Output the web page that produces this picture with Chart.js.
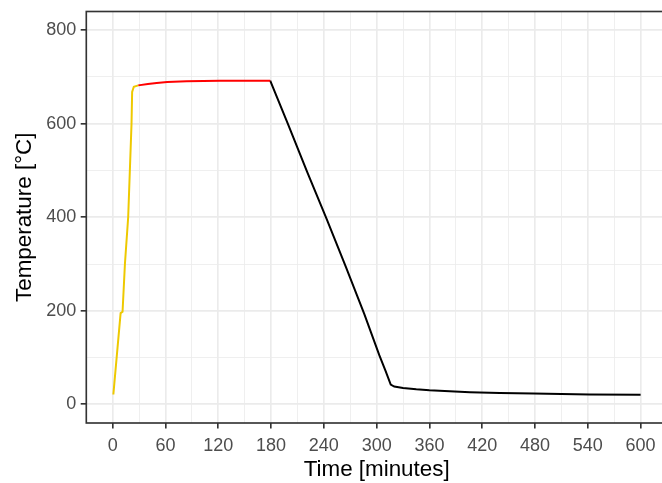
<!DOCTYPE html>
<html>
<head>
<meta charset="utf-8">
<script src="https://cdn.jsdelivr.net/npm/chart.js@4"></script>
<style>
  html, body { margin: 0; padding: 0; background: #fff; overflow: hidden; }
  #wrap { width: 668px; height: 483px; }
</style>
</head>
<body>
<div id="wrap"><canvas id="tempChart" width="668" height="483"></canvas></div>
<script>
// heating phase (yellow)
const heatTime = [0.75, 9, 11.2, 13.9, 17.6, 19.5, 21.4, 22.1, 24, 29];
const heatTemp = [21, 195, 198, 300, 400, 500, 600, 668, 679, 682];
// holding phase (red)
const holdTime = [29, 40, 50, 62, 84, 122, 150, 179];
const holdTemp = [682, 685, 687, 689, 691, 692, 692, 692];
// cooling phase (black)
const coolTime = [179, 199, 221, 243, 265, 286, 303, 310, 316, 320, 330, 345, 360, 406, 440, 478, 542, 600];
const coolTemp = [692, 600, 497, 397, 294, 193, 105, 72, 42, 38, 35, 32, 30, 26, 24, 23, 21, 20.5];

const xMajor = [0, 60, 120, 180, 240, 300, 360, 420, 480, 540, 600];
const xMinor = [30, 90, 150, 210, 270, 330, 390, 450, 510, 570];
const yMajor = [0, 200, 400, 600, 800];
const yMinor = [100, 300, 500, 700];

const toPoints = (xs, ys) => xs.map((x, i) => ({ x: x, y: ys[i] }));

const majorW = 1.64, minorW = 0.82;
const font = 'Liberation Sans, Arial, Helvetica, sans-serif';

function gridFor(majors) {
    return {
        color: '#EBEBEB',
        lineWidth: ctx => majors.includes(ctx.tick.value) ? majorW : minorW,
        tickColor: ctx => majors.includes(ctx.tick.value) ? '#333333' : 'rgba(0,0,0,0)',
        tickLength: 5.6,
        tickWidth: majorW,
        drawTicks: true
    };
}

// panel border on all four sides, like theme_bw
const panelBorder = {
    id: 'panelBorder',
    afterDraw(chart) {
        const a = chart.chartArea;
        const c = chart.ctx;
        c.save();
        c.strokeStyle = '#333333';
        c.lineWidth = majorW;
        c.strokeRect(a.left, a.top, a.right - a.left, a.bottom - a.top);
        c.restore();
    }
};

const ctx = document.getElementById('tempChart').getContext('2d');
new Chart(ctx, {
    type: 'line',
    data: {
        datasets: [
            { data: toPoints(heatTime, heatTemp), borderColor: '#EEC900' },
            { data: toPoints(holdTime, holdTemp), borderColor: '#FF0000' },
            { data: toPoints(coolTime, coolTemp), borderColor: '#000000' }
        ]
    },
    options: {
        responsive: false,
        animation: false,
        layout: { autoPadding: false, padding: { top: 11.5, right: 1, left: 0, bottom: 0 } },
        elements: {
            line: { borderWidth: 2, tension: 0, fill: false },
            point: { radius: 0 }
        },
        plugins: { legend: { display: false }, tooltip: { enabled: false } },
        scales: {
            x: {
                type: 'linear',
                min: -30,
                max: 630,
                afterBuildTicks: s => { s.ticks = xMajor.concat(xMinor).sort((a, b) => a - b).map(v => ({ value: v })); },
                afterFit: s => { s.height = 60; s.paddingLeft = 0; s.paddingRight = 0; },
                grid: gridFor(xMajor),
                border: { display: false },
                ticks: {
                    autoSkip: false, maxRotation: 0, padding: 6.5,
                    color: '#4D4D4D', font: { family: font, size: 18 },
                    callback: v => xMajor.includes(v) ? String(v) : ''
                },
                title: {
                    display: true, text: 'Time [minutes]', color: '#000000',
                    font: { family: font, size: 22.4 }, padding: { top: 0, bottom: 0 }
                }
            },
            y: {
                type: 'linear',
                min: -40,
                max: 840,
                afterBuildTicks: s => { s.ticks = yMajor.concat(yMinor).sort((a, b) => a - b).map(v => ({ value: v })); },
                afterFit: s => { s.width = 86.3; s.paddingTop = 0; s.paddingBottom = 0; },
                grid: gridFor(yMajor),
                border: { display: false },
                ticks: {
                    autoSkip: false, padding: 4.5,
                    color: '#4D4D4D', font: { family: font, size: 18 },
                    callback: v => yMajor.includes(v) ? String(v) : ''
                },
                title: {
                    display: true, text: 'Temperature [°C]', color: '#000000',
                    font: { family: font, size: 22.4 }, padding: { top: 11.5, bottom: 0 }
                }
            }
        }
    },
    plugins: [panelBorder]
});
</script>
</body>
</html>
